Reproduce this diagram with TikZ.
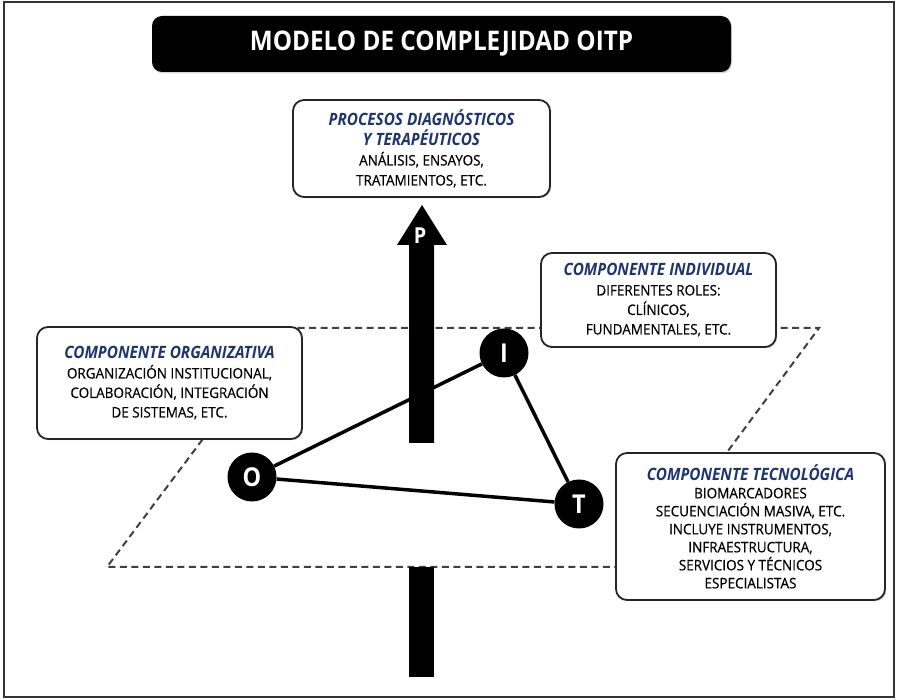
\documentclass[tikz,border=0pt]{standalone}
\usepackage{fontspec}
\setmainfont[FakeStretch=0.9]{Open Sans}
\newfontfamily\bodyfont[FakeStretch=0.93, FakeBold=0.5]{Open Sans}
\usepackage{xcolor}
\usepackage{tikz}
\usetikzlibrary{shadows}
\definecolor{navy}{RGB}{30,54,112}
\newcommand{\headtxt}[1]{{\color{navy}\normalfont\bfseries\itshape\fontsize{17}{1}\selectfont #1}}

\begin{document}
\begin{tikzpicture}[x=1pt, y=-1pt]
        \tikzset{
            info_box/.style={draw=black!85, line width=1.8pt, rounded corners=11pt, fill=white, align=center, inner sep=0pt,
                drop shadow={shadow xshift=1.2pt, shadow yshift=-1.2pt, opacity=0.35}},
            vertex/.style={circle, fill=black, minimum size=49pt, inner sep=0pt, text=white, font=\fontsize{26}{26}\selectfont\bfseries},
            side/.style={line width=3.5pt, black},
            plane/.style={draw=black!75, line width=2pt, dash pattern=on 7pt off 4.5pt},
            title_bar/.style={fill=black, rounded corners=10pt, text=white, minimum width=579pt, minimum height=56pt,
                font=\fontsize{27}{27}\selectfont\bfseries, drop shadow={shadow xshift=1pt, shadow yshift=-1.5pt, opacity=0.3}}
        }
        \useasboundingbox (0,0) rectangle (898,700);
        \draw[line width=1.5pt, black!80] (4,2) rectangle (894,697);
        \node[title_bar] (title) at (441.5,44) {MODELO DE COMPLEJIDAD OITP};
        % plano de los componentes
        \draw[plane] (286,328) -- (819,328) -- (642,567) -- (107,567) -- cycle;
        % eje P
        \fill[black] (409,443) -- (409,245) -- (397,245) -- (422,205) -- (447,245) -- (434,245) -- (434,443) -- cycle;
        \fill[black] (409,567) rectangle (434,677);
        \node[text=white, font=\fontsize{22}{22}\selectfont\bfseries] (P) at (420,236) {P};
        % triangulo OIT
        \node[vertex] (O) at (252,477) {O};
        \node[vertex] (I) at (504,353) {I};
        \node[vertex] (T) at (579,504) {T};
        \path (O) edge [side] (I);
        \path (I) edge [side] (T);
        \path (O) edge [side] (T);
        % cuadros
        \node[info_box, minimum width=257pt, minimum height=97pt, font=\bodyfont\fontsize{14.5}{20}\selectfont] (proc) at (421.5,148.5)
            {\headtxt{PROCESOS DIAGNÓSTICOS}\\\headtxt{Y TERAPÉUTICOS}\\ANÁLISIS, ENSAYOS,\\TRATAMIENTOS, ETC.};
        \node[info_box, minimum width=265pt, minimum height=112pt, font=\bodyfont\fontsize{14.5}{19.5}\selectfont] (org) at (169.5,383)
            {\headtxt{COMPONENTE ORGANIZATIVA}\\ORGANIZACIÓN INSTITUCIONAL,\\COLABORACIÓN, INTEGRACIÓN\\DE SISTEMAS, ETC.};
        \node[info_box, minimum width=235pt, minimum height=94pt, font=\bodyfont\fontsize{14.5}{19.5}\selectfont] (ind) at (658.5,300)
            {\headtxt{COMPONENTE INDIVIDUAL}\\DIFERENTES ROLES:\\CLÍNICOS,\\FUNDAMENTALES, ETC.};
        \node[info_box, minimum width=269pt, minimum height=147pt, font=\bodyfont\fontsize{14.5}{18}\selectfont] (tec) at (750.5,526.5)
            {\headtxt{COMPONENTE TECNOLÓGICA}\\BIOMARCADORES\\SECUENCIACIÓN MASIVA, ETC.\\INCLUYE INSTRUMENTOS,\\INFRAESTRUCTURA,\\SERVICIOS Y TÉCNICOS\\ESPECIALISTAS};
    \end{tikzpicture}
\end{document}
